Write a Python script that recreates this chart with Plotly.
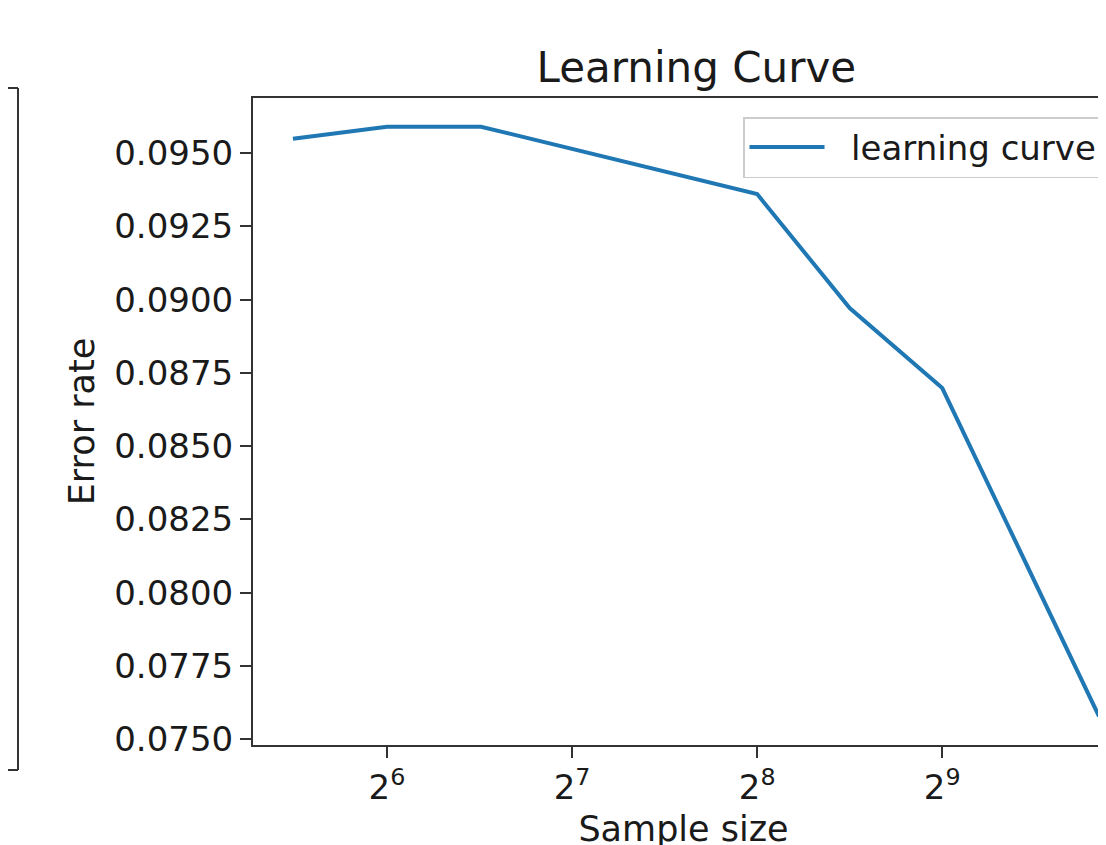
import math
import plotly.graph_objects as go

# ---- data ----
sample_sizes = [45, 64, 91, 256, 362, 512, 921]
error_rates = [0.09549, 0.09590, 0.09590, 0.09360, 0.08971, 0.08698, 0.07578]

x_tick_exponents = [6, 7, 8, 9, 10]
y_tick_values = [0.0750, 0.0775, 0.0800, 0.0825, 0.0850, 0.0875, 0.0900, 0.0925, 0.0950]

# ---- layout (pixels of the 1106x845 page) ----
W, H = 1106, 845
OFF = 8  # the page body margin that shifts the figure
FONT = "DejaVu Sans"
TXT = "#1a1a1a"
SPINE = "#333333"


def fx(px):
    return (px - OFF) / W


def fy(py):
    return 1 - (py - OFF) / H


ax_left, ax_top, ax_bottom = 253, 98, 745
ax_right = W + OFF  # plot area runs past the page edge
x_lo_log2, x_hi_log2 = 5.276, 9.928
y_range = [0.07480, 0.09688]

fig = go.Figure()
fig.add_trace(go.Scatter(
    x=sample_sizes, y=error_rates, mode="lines", name="\u00a0\u00a0learning curve",
    line=dict(color="#1f77b4", width=4),
))

x_tickvals = [2 ** e for e in x_tick_exponents]
x_ticktext = [f"2<sup>{e}</sup>" for e in x_tick_exponents]

axis_common = dict(
    showgrid=False, zeroline=False, showline=True, linecolor=SPINE, linewidth=2,
    ticks="outside", ticklen=11, tickwidth=2, tickcolor=SPINE,
    tickfont=dict(family=FONT, size=34, color=TXT),
)

fig.update_layout(
    width=W, height=H,
    margin=dict(l=0, r=0, t=0, b=0, autoexpand=False),
    paper_bgcolor="white", plot_bgcolor="white",
    font=dict(family=FONT, size=34, color=TXT),
    title=dict(text="Learning Curve", font=dict(family=FONT, size=42, color=TXT),
               xref="container", yref="container",
               x=fx(696.3), y=fy(67), xanchor="center", yanchor="middle"),
    xaxis=dict(
        type="log", domain=[fx(ax_left), fx(ax_right)], anchor="y",
        range=[x_lo_log2 * math.log10(2), x_hi_log2 * math.log10(2)],
        tickvals=x_tickvals, ticktext=x_ticktext, mirror=True,
        title=dict(text="Sample size", font=dict(family=FONT, size=35, color=TXT), standoff=11),
        automargin=False,
        **axis_common,
    ),
    yaxis=dict(
        domain=[fy(ax_bottom), fy(ax_top)], anchor="x",
        range=y_range, tickvals=y_tick_values, tickformat=".4f",
        title=dict(text="Error rate", font=dict(family=FONT, size=35, color=TXT), standoff=9),
        automargin=False,
        **axis_common,
    ),
    legend=dict(x=fx(743), y=fy(117), xref="container", yref="container",
                xanchor="left", yanchor="top",
                bgcolor="rgba(255,255,255,0.8)", bordercolor="#cccccc", borderwidth=1.5,
                font=dict(family=FONT, size=34, color=TXT), itemwidth=75),
    showlegend=True,
)

# right edge of the neighbouring subplot, only partly in view
box_right, box_top, box_bottom = 18, 88, 770
fig.add_shape(type="line", xref="paper", yref="paper",
              x0=fx(0), x1=fx(box_right), y0=fy(box_top), y1=fy(box_top),
              line=dict(color=SPINE, width=2))
fig.add_shape(type="line", xref="paper", yref="paper",
              x0=fx(0), x1=fx(box_right), y0=fy(box_bottom), y1=fy(box_bottom),
              line=dict(color=SPINE, width=2))
fig.add_shape(type="line", xref="paper", yref="paper",
              x0=fx(box_right), x1=fx(box_right), y0=fy(box_top), y1=fy(box_bottom),
              line=dict(color=SPINE, width=2))

# tick label of 2^10, whose tick lies just beyond the visible page edge
frac10 = (10 - x_lo_log2) / (x_hi_log2 - x_lo_log2)
x10_paper = fx(ax_left) + frac10 * (fx(ax_right) - fx(ax_left))
fig.add_annotation(text="2<sup>10</sup>", x=x10_paper, xref="paper",
                   y=fy(757), yref="paper", yanchor="top", xanchor="center",
                   showarrow=False, font=dict(family=FONT, size=34, color=TXT))

fig.write_html("out.html")
